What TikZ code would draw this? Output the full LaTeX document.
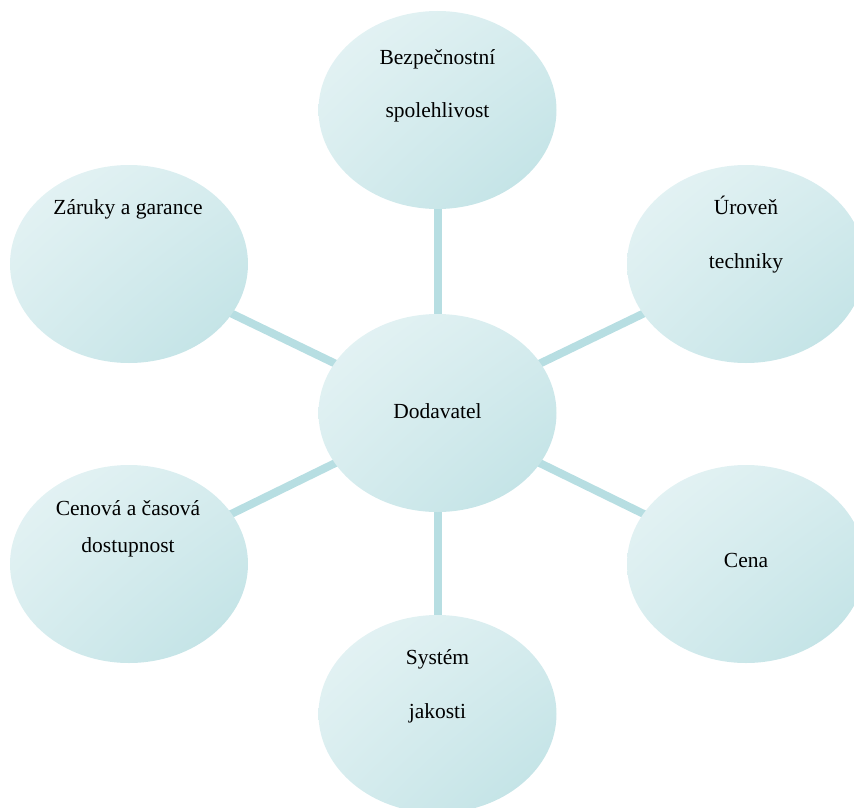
\documentclass[tikz,border=0pt]{standalone}
\usepackage{fontspec}
\setmainfont{Liberation Serif}
\usetikzlibrary{shapes.geometric,backgrounds,shadings}
\definecolor{bubL}{RGB}{231,244,245}
\definecolor{bubM}{RGB}{214,236,238}
\definecolor{bubD}{RGB}{190,225,228}
\definecolor{link}{RGB}{183,222,226}
\tikzset{
  bubble/.style={ellipse, minimum width=238pt, minimum height=198pt, inner sep=0pt,
    upper left=bubL, upper right=bubM, lower left=bubM, lower right=bubD},
  lbl/.style={anchor=base, inner sep=0pt, font=\fontsize{21.5}{26}\selectfont, text=black},
  conn/.style={draw=link, line width=8pt}
}
\begin{document}
\begin{tikzpicture}[x=1pt,y=-1pt]
\useasboundingbox (0,0) rectangle (854,808);
\clip (0,0) rectangle (854,808);
\node[bubble] (c) at (437.5,413) {};
\node[bubble] (t) at (437.5,110) {};
\node[bubble] (b) at (437.5,714) {};
\node[bubble] (tl) at (129,264) {};
\node[bubble] (tr) at (746,264) {};
\node[bubble] (bl) at (129,564) {};
\node[bubble] (br) at (746,564) {};
\begin{scope}[on background layer]
\draw[conn] (c.center) -- (t.center);
\draw[conn] (c.center) -- (b.center);
\draw[conn] (c.center) -- (tl.center);
\draw[conn] (c.center) -- (tr.center);
\draw[conn] (c.center) -- (bl.center);
\draw[conn] (c.center) -- (br.center);
\end{scope}
\node[lbl] (c1) at (437.5,418) {Dodavatel};
\node[lbl] (t1) at (437.5,64) {Bezpečnostní};
\node[lbl] (t2) at (437.5,117) {spolehlivost};
\node[lbl] (tl1) at (128,214) {Záruky a garance};
\node[lbl] (tr1) at (746,214) {Úroveň};
\node[lbl] (tr2) at (746,268) {techniky};
\node[lbl] (bl1) at (128,515) {Cenová a časová};
\node[lbl] (bl2) at (128,552) {dostupnost};
\node[lbl] (br1) at (746,567) {Cena};
\node[lbl] (b1) at (437.5,664) {Systém};
\node[lbl] (b2) at (437.5,718) {jakosti};
\end{tikzpicture}
\end{document}
